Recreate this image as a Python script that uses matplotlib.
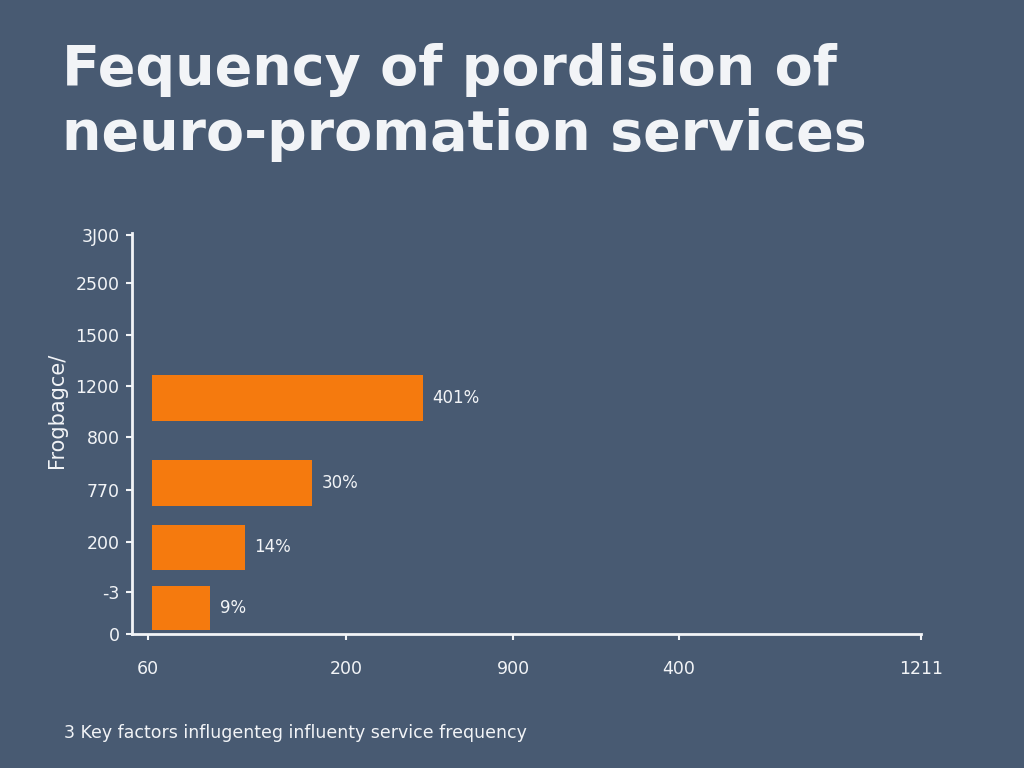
import matplotlib
matplotlib.use("Agg")
from matplotlib import pyplot as plt

# データ
title_lines = ["Fequency of pordision of", "neuro-promation services"]
bar_labels = ["401%", "30%", "14%", "9%"]
bar_values = [34.4, 20.3, 11.8, 7.4]      # 棒の長さ
bar_start = 2.5
bar_pos = [4.71, 3.01, 1.73, 0.52]
bar_height = [0.92, 0.92, 0.9, 0.88]
ytick_pos = [0, 0.84, 1.84, 2.87, 3.93, 4.95, 5.97, 7.0, 7.96]
ytick_labels = ["0", "-3", "200", "770", "800", "1200", "1500", "2500", "3J00"]
xtick_pos = [2.0, 27.1, 48.3, 69.3, 100]
xtick_labels = ["60", "200", "900", "400", "1211"]
ylabel = "Frogbagce/"
footnote = "3 Key factors influgenteg influenty service frequency"

bg = "#485a72"
orange = "#f57a0e"
white = "#f2f4f7"

plt.rcParams['font.family'] = ['DejaVu Sans']

fig = plt.figure(figsize=(10.24, 7.68), dpi=100, facecolor=bg)
ax = fig.add_axes([132/1024, 1 - 634/768, (921-132)/1024, (634-233)/768])
ax.set_facecolor(bg)

ax.barh(bar_pos, bar_values, height=bar_height, left=bar_start, color=orange)
for y, v, t in zip(bar_pos, bar_values, bar_labels):
    ax.text(bar_start + v + 1.2, y, t, color=white, fontsize=12, va="center", ha="left")

ax.set_xlim(0, 100)
ax.set_ylim(0, 8)
ax.set_yticks(ytick_pos)
ax.set_yticklabels(ytick_labels)
ax.set_xticks(xtick_pos)
ax.set_xticklabels(xtick_labels)
ax.tick_params(axis="both", colors=white, labelcolor=white, labelsize=12.5, width=1.5, length=4)
ax.tick_params(axis="x", pad=15)
ax.tick_params(axis="y", pad=5)
for s in ["top", "right"]:
    ax.spines[s].set_visible(False)
for s in ["left", "bottom"]:
    ax.spines[s].set_color(white)
    ax.spines[s].set_linewidth(2)

fig.text(57/1024, 1 - 410/768, ylabel, rotation=90, color=white, fontsize=15,
         ha="center", va="center")

fig.text(62/1024, 1 - 70/768, title_lines[0], color=white, fontsize=40,
         fontweight="bold", ha="left", va="center")
fig.text(62/1024, 1 - 135/768, title_lines[1], color=white, fontsize=40,
         fontweight="bold", ha="left", va="center")

fig.text(64/1024, 1 - 733/768, footnote, color=white, fontsize=12.5, ha="left", va="center")

fig.savefig("out.png", dpi=100, facecolor=bg)
